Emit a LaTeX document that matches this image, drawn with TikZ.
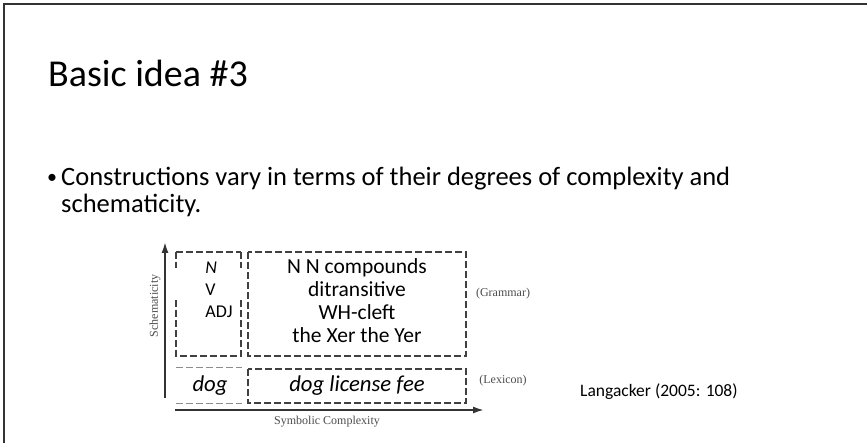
\documentclass[tikz,border=0pt]{standalone}
\usepackage{fontspec}
\setmainfont{Carlito}
\newfontfamily\axisfont{Liberation Serif}
\usetikzlibrary{arrows.meta}

\begin{document}
\begin{tikzpicture}[x=1pt, y=-1pt,
  dashbox/.style={draw=black!75, line width=1.1pt, dash pattern=on 7pt off 3pt},
  lexline/.style={draw=black!45, line width=0.9pt, dash pattern=on 7pt off 3pt},
  axis/.style={line width=1.8pt, draw=black!80, -{Latex[length=11pt, width=7pt]}},
  axlabel/.style={font=\axisfont\fontsize{12}{14}\selectfont, text=black!70, inner sep=0pt}]
  \useasboundingbox (0,0) rectangle (867,443);

  \coordinate (A) at (176,252);
  \coordinate (B) at (241,356);
  \coordinate (C) at (248,252);
  \coordinate (D) at (466,356);
  \coordinate (E) at (248,369);
  \coordinate (F) at (466,403);

  \draw[line width=1.5pt, black!80] (4,443) -- (4,4) -- (867,4);

  \node[anchor=base west, inner sep=0pt, font=\fontsize{38}{46}\selectfont] (title) at (48,87) {Basic idea \#3};
  \node[anchor=base west, inner sep=0pt, font=\fontsize{20}{24}\selectfont] (bullet) at (47,184) {•};
  \node[anchor=base west, inner sep=0pt, font=\fontsize{26.5}{32}\selectfont] (line1) at (61,186) {Constructions vary in terms of their degrees of complexity and};
  \node[anchor=base west, inner sep=0pt, font=\fontsize{26.5}{32}\selectfont] (line2) at (61,213) {schematicity.};

  \coordinate (vbot) at (165,398);
  \coordinate (vtop) at (165,242);
  \coordinate (hleft) at (175,410);
  \coordinate (hright) at (484,410);
  \draw[axis] (vbot) -- (vtop);
  \draw[axis] (hleft) -- (hright);

  \draw[dashbox] (A) -- (241,252);
  \draw[dashbox] (A) -- (176,268);
  \draw[dashbox] (241,252) -- (241,268);
  \draw[dashbox] (176,300) -- (176,356) -- (B) -- (241,300);
  \draw[dashbox] (C) rectangle (D);
  \draw[dashbox] (E) rectangle (F);
  \draw[lexline] (176,367) -- (242,367);
  \draw[lexline] (176,403) -- (242,403);

  \node[align=left, inner sep=0pt, font=\fontsize{18}{22}\selectfont] (cats) at (219,290) {\textit{N}\\V\\ADJ};
  \node[align=center, inner sep=0pt, font=\fontsize{21.5}{23}\selectfont] (constr) at (357,301) {N N compounds\\ditransitive\\WH-cleft\\the Xer the Yer};
  \node[inner sep=0pt, font=\fontsize{22.7}{27}\selectfont\itshape] (dog) at (210,386) {dog};
  \node[inner sep=0pt, font=\fontsize{22.7}{27}\selectfont\itshape] (fee) at (357,386) {dog license fee};

  \node[axlabel] (gram) at (503,294) {(Grammar)};
  \node[axlabel] (lex) at (503,381) {(Lexicon)};
  \node[axlabel] (symb) at (327,422) {Symbolic Complexity};
  \node[axlabel, rotate=90] (schem) at (155,306) {Schematicity};
  \node[anchor=west, inner sep=0pt, font=\fontsize{17.5}{21}\selectfont] (src) at (580,392) {Langacker (2005: 108)};
\end{tikzpicture}
\end{document}
